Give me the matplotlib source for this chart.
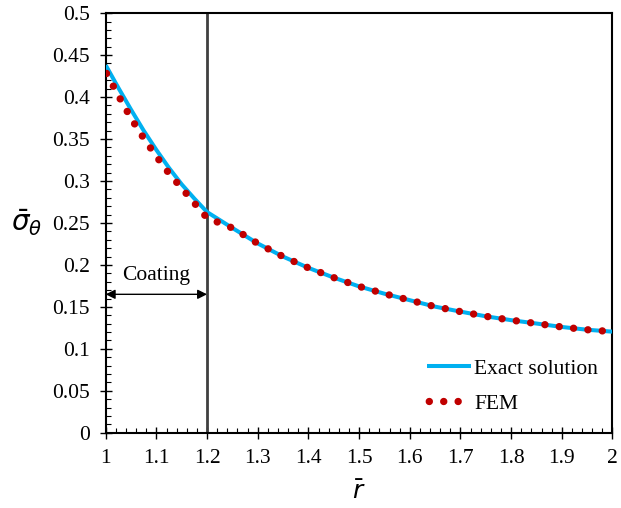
"""
Hoop stress through the coated cylinder: exact solution vs FEM.
"""

import matplotlib
matplotlib.use("Agg")
import matplotlib.pyplot as plt
import matplotlib.ticker as tkr

plt.rcParams["font.family"] = ["Liberation Serif", "DejaVu Serif"]
plt.rcParams["mathtext.fontset"] = "dejavusans"

# radius (normalised)
r_exact = [1.0, 1.025, 1.05, 1.075, 1.1, 1.125, 1.15, 1.175, 1.2,
           1.25, 1.3, 1.35, 1.4, 1.45, 1.5, 1.55, 1.6, 1.65, 1.7,
           1.75, 1.8, 1.85, 1.9, 1.95, 2.0]
sig_exact = [0.438, 0.411, 0.385, 0.360, 0.337, 0.3155, 0.296, 0.279, 0.263,
             0.244, 0.2256, 0.2099, 0.1965, 0.1849, 0.1744, 0.1657, 0.158,
             0.1503, 0.1444, 0.1388, 0.1342, 0.1302, 0.1261, 0.1228, 0.1205]

r_fem = r_exact
sig_fem = [0.430, 0.4017, 0.3747, 0.351, 0.3293, 0.309, 0.2915, 0.2737, 0.256,
           0.244, 0.2256, 0.2099, 0.1965, 0.1849, 0.1744, 0.1657, 0.158,
           0.1503, 0.1444, 0.1388, 0.1342, 0.1302, 0.1261, 0.1228, 0.1205]

x_ticks = [1.0, 1.1, 1.2, 1.3, 1.4, 1.5, 1.6, 1.7, 1.8, 1.9, 2.0]
x_labels = ["1", "1.1", "1.2", "1.3", "1.4", "1.5", "1.6", "1.7", "1.8", "1.9", "2"]
y_ticks = [0, 0.05, 0.1, 0.15, 0.2, 0.25, 0.3, 0.35, 0.4, 0.45, 0.5]
y_labels = ["0", "0.05", "0.1", "0.15", "0.2", "0.25", "0.3", "0.35", "0.4", "0.45", "0.5"]

coating_end = 1.2
arrow_y = 0.165

if __name__ == "__main__":
    fig = plt.figure(figsize=(6.21, 5.08), dpi=100)
    ax = fig.add_axes([0.1702, 0.148, 0.8161, 0.8262])

    ax.plot(r_exact, sig_exact, color="#00B0F0", lw=2.9, label="Exact solution",
            solid_capstyle="butt", zorder=3)
    # round-dot dash style, period ~14.4 px
    ax.plot(r_fem, sig_fem, color="#C00000", lw=5.3, label="FEM",
            linestyle=(1.72, (0.01, 1.95)), dash_capstyle="round", zorder=4)

    # interface between coating and substrate
    ax.axvline(coating_end, color="#404040", lw=2.0, zorder=2)
    ax.annotate("", xy=(1.0, arrow_y), xytext=(coating_end, arrow_y),
                arrowprops=dict(arrowstyle="<|-|>", color="black", lw=1.0,
                                mutation_scale=14, shrinkA=0, shrinkB=0))
    ax.text(1.1, 0.188, "Coating", ha="center", va="center", fontsize=15.5)

    ax.set_xlim(1, 2)
    ax.set_ylim(0, 0.5)
    ax.set_xticks(x_ticks)
    ax.set_xticklabels(x_labels)
    ax.set_yticks(y_ticks)
    ax.set_yticklabels(y_labels)
    ax.xaxis.set_minor_locator(tkr.MultipleLocator(0.02))
    ax.yaxis.set_minor_locator(tkr.MultipleLocator(0.01))
    ax.tick_params(which="major", direction="inout", length=9, width=1.0,
                   labelsize=15.5, pad=7, top=False, right=False)
    ax.tick_params(which="minor", direction="in", length=3.5, width=0.8,
                   top=False, right=False)
    for sp in ax.spines.values():
        sp.set_linewidth(1.5)

    ax.set_xlabel(r"$\bar{r}$", fontsize=18)
    ax.set_ylabel(r"$\bar{\sigma}_{\theta}$", fontsize=20, rotation=0)
    ax.xaxis.set_label_coords(0.5, -0.143)
    ax.yaxis.set_label_coords(-0.155, 0.5)
    ax.xaxis.label.set_va("center")
    ax.yaxis.label.set_va("center")
    ax.yaxis.label.set_ha("center")

    ax.legend(loc="upper left", bbox_to_anchor=(0.634, 0.176), frameon=False,
              fontsize=15.5, handlelength=2.05, handletextpad=0.15,
              labelspacing=0.68, borderpad=0, borderaxespad=0)

    fig.savefig("out.png", dpi=100)
